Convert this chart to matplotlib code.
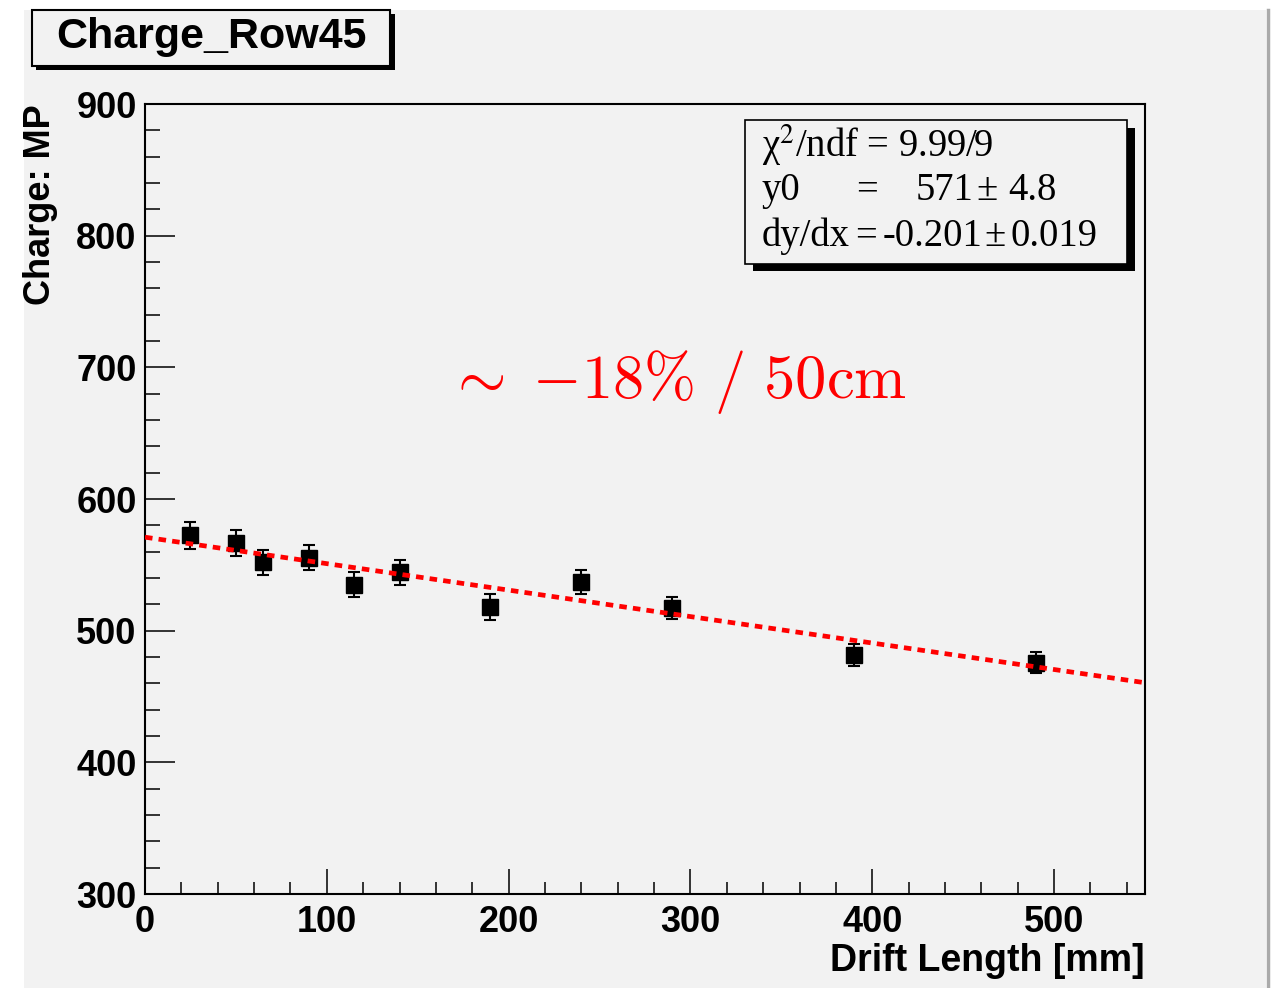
import numpy as np
import matplotlib
matplotlib.use("Agg")
import matplotlib.pyplot as plt
from matplotlib.patches import Rectangle
from matplotlib.lines import Line2D

# measured charge (most probable value) vs drift length
drift_mm = [25, 50, 65, 90, 115, 140, 190, 240, 290, 390, 490]
charge_mp = [572.3, 566.4, 551.8, 555.2, 534.9, 544.4, 518.0, 537.0, 517.0, 481.5, 475.6]
charge_err = [10.5, 10.0, 9.5, 9.5, 9.5, 9.5, 10.0, 9.0, 8.5, 8.5, 8.0]

# linear fit result
fit_y0, fit_y0_err = 571, 4.8
fit_slope, fit_slope_err = -0.201, 0.019
fit_chi2, fit_ndf = 9.99, 9

W, H = 1282, 988
BG = "#f2f2f2"
SANS = "Liberation Sans"
SERIF = "Liberation Serif"


def fx(px):
    return px / W


def fy(py):
    return 1 - py / H


fig = plt.figure(figsize=(W / 100, H / 100), dpi=100)
fig.patch.set_facecolor("white")

# canvas fill and its right edge
fig.patches.append(Rectangle((fx(24), 0), fx(1266) - fx(24), fy(10), transform=fig.transFigure,
                             facecolor=BG, edgecolor="none", zorder=-10))
fig.lines.append(Line2D([fx(1268), fx(1268)], [0, fy(10)], transform=fig.transFigure,
                        color="#aaaaaa", lw=2.5))

ax = fig.add_axes([fx(145), fy(894), fx(1145) - fx(145), fy(104) - fy(894)])
ax.set_facecolor(BG)
ax.set_xlim(0, 550)
ax.set_ylim(300, 900)

for s in ax.spines.values():
    s.set_linewidth(1.5)

ax.set_xticks(np.arange(0, 551, 100))
ax.set_xticks(np.arange(0, 551, 20), minor=True)
ax.set_yticks(np.arange(300, 901, 100))
ax.set_yticks(np.arange(300, 901, 20), minor=True)
ax.tick_params(axis="both", which="both", direction="in", top=False, right=False, width=1.1)
ax.tick_params(axis="x", which="major", length=18, pad=8)
ax.tick_params(axis="x", which="minor", length=8.6)
ax.tick_params(axis="y", which="major", length=21.6, pad=6)
ax.tick_params(axis="y", which="minor", length=10.8)
for lab in ax.get_xticklabels() + ax.get_yticklabels():
    lab.set_fontfamily(SANS)
    lab.set_fontweight("bold")
    lab.set_fontsize(26)

ax.set_xlabel("Drift Length [mm]", fontfamily=SANS, fontweight="bold", fontsize=27)
ax.xaxis.set_label_coords(1.0, -0.062)
ax.xaxis.label.set_horizontalalignment("right")
ax.set_ylabel("Charge: MP", fontfamily=SANS, fontweight="bold", fontsize=26)
ax.yaxis.set_label_coords(-0.087, 1.0)
ax.yaxis.label.set_horizontalalignment("right")

# data points
ax.errorbar(drift_mm, charge_mp, yerr=charge_err, fmt="s", color="black", ms=12,
            elinewidth=1.5, capsize=4.5, capthick=1.5, zorder=3)

# fitted line
fit_x = np.array([0, 550])
ax.plot(fit_x, fit_y0 + fit_slope * fit_x, color="red", lw=3.4, linestyle=(0, (1.6, 1.3)), zorder=4)

fig.text(fx(677), fy(398), r"$\sim\;{-}18\%\ /\ 50\mathrm{cm}$", color="red", fontsize=45,
         math_fontfamily="cm", ha="center", va="baseline")

# title box with shadow
fig.patches.append(Rectangle((fx(36), fy(70)), fx(395) - fx(36), fy(14) - fy(70),
                             transform=fig.transFigure, facecolor="black", edgecolor="none"))
fig.patches.append(Rectangle((fx(32), fy(66)), fx(390) - fx(32), fy(10) - fy(66),
                             transform=fig.transFigure, facecolor=BG, edgecolor="black", lw=1.5))
fig.text(fx(211), fy(37), "Charge_Row45", fontfamily=SANS, fontweight="bold", fontsize=31,
         ha="center", va="center")

# stats box with shadow
fig.patches.append(Rectangle((fx(753), fy(271)), fx(1135) - fx(753), fy(128) - fy(271),
                             transform=fig.transFigure, facecolor="black", edgecolor="none", zorder=5))
fig.patches.append(Rectangle((fx(745), fy(264)), fx(1127) - fx(745), fy(120) - fy(264),
                             transform=fig.transFigure, facecolor=BG, edgecolor="black", lw=1.2, zorder=6))
st = dict(fontfamily=SERIF, fontsize=27.8, va="baseline", zorder=7, math_fontfamily="stix")
fig.text(fx(762), fy(157), "\u03c7$^{2}$/ndf = %.2f/%d" % (fit_chi2, fit_ndf), **st)
fig.text(fx(762), fy(200), "y0", **st)
fig.text(fx(867), fy(200), "=", ha="center", **st)
fig.text(fx(973), fy(200), "%d" % fit_y0, ha="right", **st)
fig.text(fx(987), fy(200), "\u00b1", ha="center", **st)
fig.text(fx(1008), fy(200), "%.1f" % fit_y0_err, **st)
fig.text(fx(762), fy(246), "dy/dx", **st)
fig.text(fx(866), fy(246), "=", ha="center", **st)
fig.text(fx(982), fy(246), "%.3f" % fit_slope, ha="right", **st)
fig.text(fx(995), fy(246), "\u00b1", ha="center", **st)
fig.text(fx(1011), fy(246), "%.3f" % fit_slope_err, **st)

fig.savefig("out.png", dpi=100)
